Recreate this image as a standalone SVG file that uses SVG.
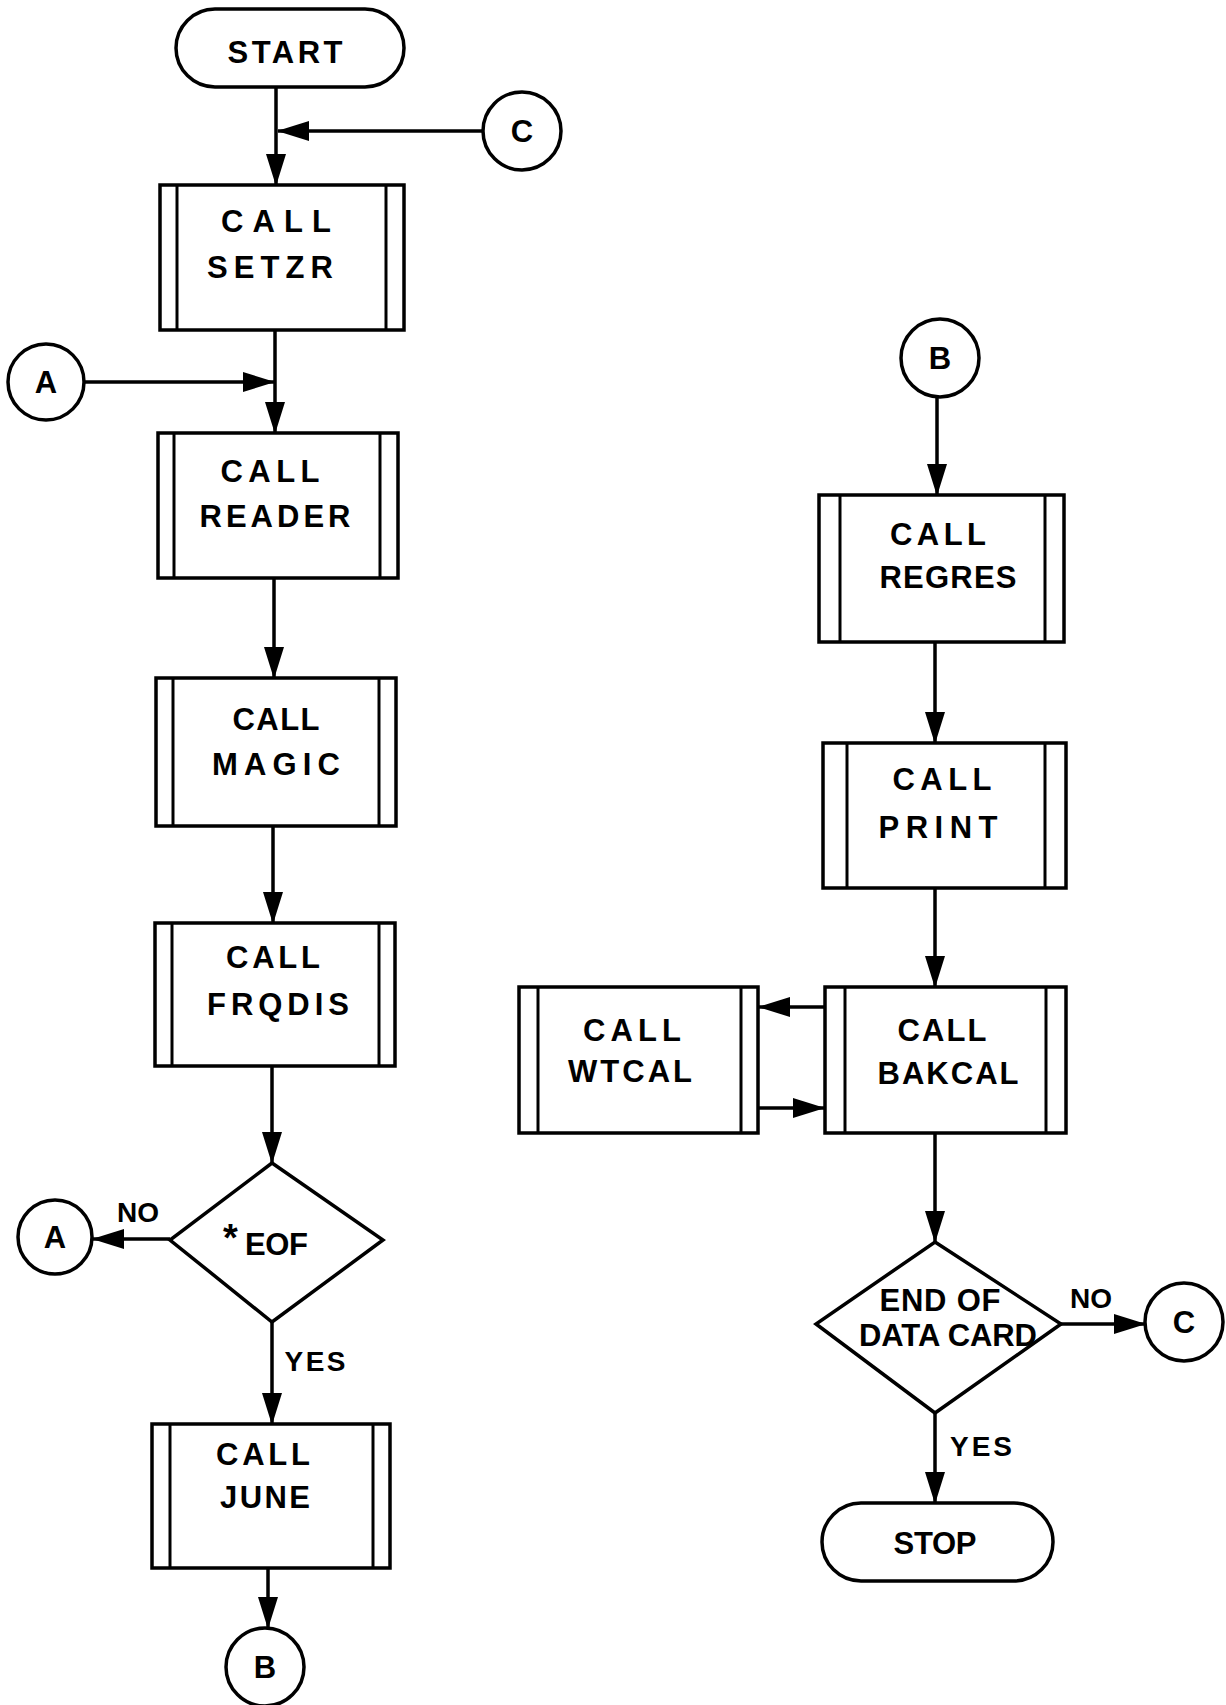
<svg xmlns="http://www.w3.org/2000/svg" width="1226" height="1705" viewBox="0 0 1226 1705">
<defs>
<style>
.s{fill:#fff;stroke:#000;stroke-width:3.5}
.i{stroke:#000;stroke-width:3}
.c{fill:none;stroke:#000;stroke-width:3.5}
.t{font-family:"Liberation Sans",Arial,sans-serif;font-weight:bold;font-size:31px;fill:#000;text-anchor:middle}
.l{font-family:"Liberation Sans",Arial,sans-serif;font-weight:bold;font-size:28px;fill:#000;text-anchor:middle}
.k{font-family:"Liberation Sans",Arial,sans-serif;font-weight:bold;font-size:31px;fill:#000;text-anchor:middle}
</style>
<marker id="ah" markerUnits="userSpaceOnUse" markerWidth="32" markerHeight="20" refX="31" refY="10" orient="auto" viewBox="0 0 32 20">
<path d="M0,0 L32,10 L0,20 Z" fill="#000"/>
</marker>
</defs>
<rect width="1226" height="1705" fill="#fff"/>
<g id="connectors" class="c" marker-end="url(#ah)">
<line x1="276" y1="87" x2="276" y2="185"/>
<line x1="483" y1="131" x2="278" y2="131"/>
<line x1="275" y1="330" x2="275" y2="433"/>
<line x1="84" y1="382" x2="274" y2="382"/>
<line x1="274" y1="578" x2="274" y2="678"/>
<line x1="273" y1="826" x2="273" y2="923"/>
<line x1="272" y1="1066" x2="272" y2="1163"/>
<line x1="170" y1="1239" x2="93" y2="1239"/>
<line x1="272" y1="1322" x2="272" y2="1424"/>
<line x1="268" y1="1568" x2="268" y2="1628"/>
<line x1="937" y1="397" x2="937" y2="495"/>
<line x1="935" y1="642" x2="935" y2="743"/>
<line x1="935" y1="888" x2="935" y2="987"/>
<line x1="825" y1="1007" x2="759" y2="1007"/>
<line x1="758" y1="1108" x2="824" y2="1108"/>
<line x1="935" y1="1133" x2="935" y2="1242"/>
<line x1="1061" y1="1324" x2="1145" y2="1324"/>
<line x1="935" y1="1413" x2="935" y2="1503"/>
</g>
<g id="start">
<rect class="s" x="176" y="9" width="228" height="78" rx="39"/>
<text class="t" x="285" y="63" textLength="115" lengthAdjust="spacing">START</text>
</g>
<g id="conn-c-top">
<circle class="s" cx="522" cy="131" r="39"/>
<text class="k" x="522" y="142">C</text>
</g>
<g id="setzr">
<rect class="s" x="160" y="185" width="244" height="145"/>
<line class="i" x1="177" y1="185" x2="177" y2="330"/>
<line class="i" x1="386" y1="185" x2="386" y2="330"/>
<text class="t" x="276" y="232" textLength="110" lengthAdjust="spacing">CALL</text>
<text class="t" x="270" y="278" textLength="126" lengthAdjust="spacing">SETZR</text>
</g>
<g id="conn-a-top">
<circle class="s" cx="46" cy="382" r="38"/>
<text class="k" x="46" y="393">A</text>
</g>
<g id="reader">
<rect class="s" x="158" y="433" width="240" height="145"/>
<line class="i" x1="174" y1="433" x2="174" y2="578"/>
<line class="i" x1="380" y1="433" x2="380" y2="578"/>
<text class="t" x="270" y="482" textLength="99" lengthAdjust="spacing">CALL</text>
<text class="t" x="275" y="527" textLength="151" lengthAdjust="spacing">READER</text>
</g>
<g id="magic">
<rect class="s" x="156" y="678" width="240" height="148"/>
<line class="i" x1="173" y1="678" x2="173" y2="826"/>
<line class="i" x1="379" y1="678" x2="379" y2="826"/>
<text class="t" x="276" y="730" textLength="87" lengthAdjust="spacing">CALL</text>
<text class="t" x="276" y="775" textLength="128" lengthAdjust="spacing">MAGIC</text>
</g>
<g id="frqdis">
<rect class="s" x="155" y="923" width="240" height="143"/>
<line class="i" x1="172" y1="923" x2="172" y2="1066"/>
<line class="i" x1="379" y1="923" x2="379" y2="1066"/>
<text class="t" x="273" y="968" textLength="94" lengthAdjust="spacing">CALL</text>
<text class="t" x="278" y="1015" textLength="142" lengthAdjust="spacing">FRQDIS</text>
</g>
<g id="eof">
<polygon class="s" points="272,1163 383,1240 272,1322 170,1240"/>
<text class="t" x="223" y="1251" style="text-anchor:start"><tspan style="font-size:38px">*</tspan><tspan x="245" y="1255" textLength="63" lengthAdjust="spacing">EOF</tspan></text>
</g>
<g id="conn-a-bottom">
<circle class="s" cx="55" cy="1237" r="37"/>
<text class="k" x="55" y="1248">A</text>
</g>
<text class="l" x="138" y="1222" textLength="42" lengthAdjust="spacing">NO</text>
<text class="l" x="315" y="1371" textLength="61" lengthAdjust="spacing">YES</text>
<g id="june">
<rect class="s" x="152" y="1424" width="238" height="144"/>
<line class="i" x1="170" y1="1424" x2="170" y2="1568"/>
<line class="i" x1="373" y1="1424" x2="373" y2="1568"/>
<text class="t" x="263" y="1465" textLength="94" lengthAdjust="spacing">CALL</text>
<text class="t" x="265" y="1508" textLength="90" lengthAdjust="spacing">JUNE</text>
</g>
<g id="conn-b-bottom">
<circle class="s" cx="265" cy="1667" r="39"/>
<text class="k" x="265" y="1678">B</text>
</g>
<g id="conn-b-top">
<circle class="s" cx="940" cy="358" r="39"/>
<text class="k" x="940" y="369">B</text>
</g>
<g id="regres">
<rect class="s" x="819" y="495" width="245" height="147"/>
<line class="i" x1="840" y1="495" x2="840" y2="642"/>
<line class="i" x1="1045" y1="495" x2="1045" y2="642"/>
<text class="t" x="938" y="545" textLength="96" lengthAdjust="spacing">CALL</text>
<text class="t" x="948" y="588" textLength="137" lengthAdjust="spacing">REGRES</text>
</g>
<g id="print">
<rect class="s" x="823" y="743" width="243" height="145"/>
<line class="i" x1="847" y1="743" x2="847" y2="888"/>
<line class="i" x1="1045" y1="743" x2="1045" y2="888"/>
<text class="t" x="942" y="790" textLength="99" lengthAdjust="spacing">CALL</text>
<text class="t" x="938" y="838" textLength="119" lengthAdjust="spacing">PRINT</text>
</g>
<g id="bakcal">
<rect class="s" x="825" y="987" width="241" height="146"/>
<line class="i" x1="845" y1="987" x2="845" y2="1133"/>
<line class="i" x1="1046" y1="987" x2="1046" y2="1133"/>
<text class="t" x="942" y="1041" textLength="89" lengthAdjust="spacing">CALL</text>
<text class="t" x="948" y="1084" textLength="141" lengthAdjust="spacing">BAKCAL</text>
</g>
<g id="wtcal">
<rect class="s" x="519" y="987" width="239" height="146"/>
<line class="i" x1="538" y1="987" x2="538" y2="1133"/>
<line class="i" x1="741" y1="987" x2="741" y2="1133"/>
<text class="t" x="632" y="1041" textLength="98" lengthAdjust="spacing">CALL</text>
<text class="t" x="630" y="1082" textLength="124" lengthAdjust="spacing">WTCAL</text>
</g>
<g id="end-of-data">
<polygon class="s" points="935,1242 1061,1324 935,1413 816,1324"/>
<text class="t" x="940" y="1311" textLength="121" lengthAdjust="spacing">END OF</text>
<text class="t" x="948" y="1346" textLength="178" lengthAdjust="spacing">DATA CARD</text>
</g>
<text class="l" x="1091" y="1308" textLength="42" lengthAdjust="spacing">NO</text>
<text class="l" x="981" y="1456" textLength="62" lengthAdjust="spacing">YES</text>
<g id="conn-c-right">
<circle class="s" cx="1184" cy="1322" r="39"/>
<text class="k" x="1184" y="1333">C</text>
</g>
<g id="stop">
<rect class="s" x="822" y="1503" width="231" height="78" rx="39"/>
<text class="t" x="935" y="1554" textLength="83" lengthAdjust="spacing">STOP</text>
</g>
</svg>
